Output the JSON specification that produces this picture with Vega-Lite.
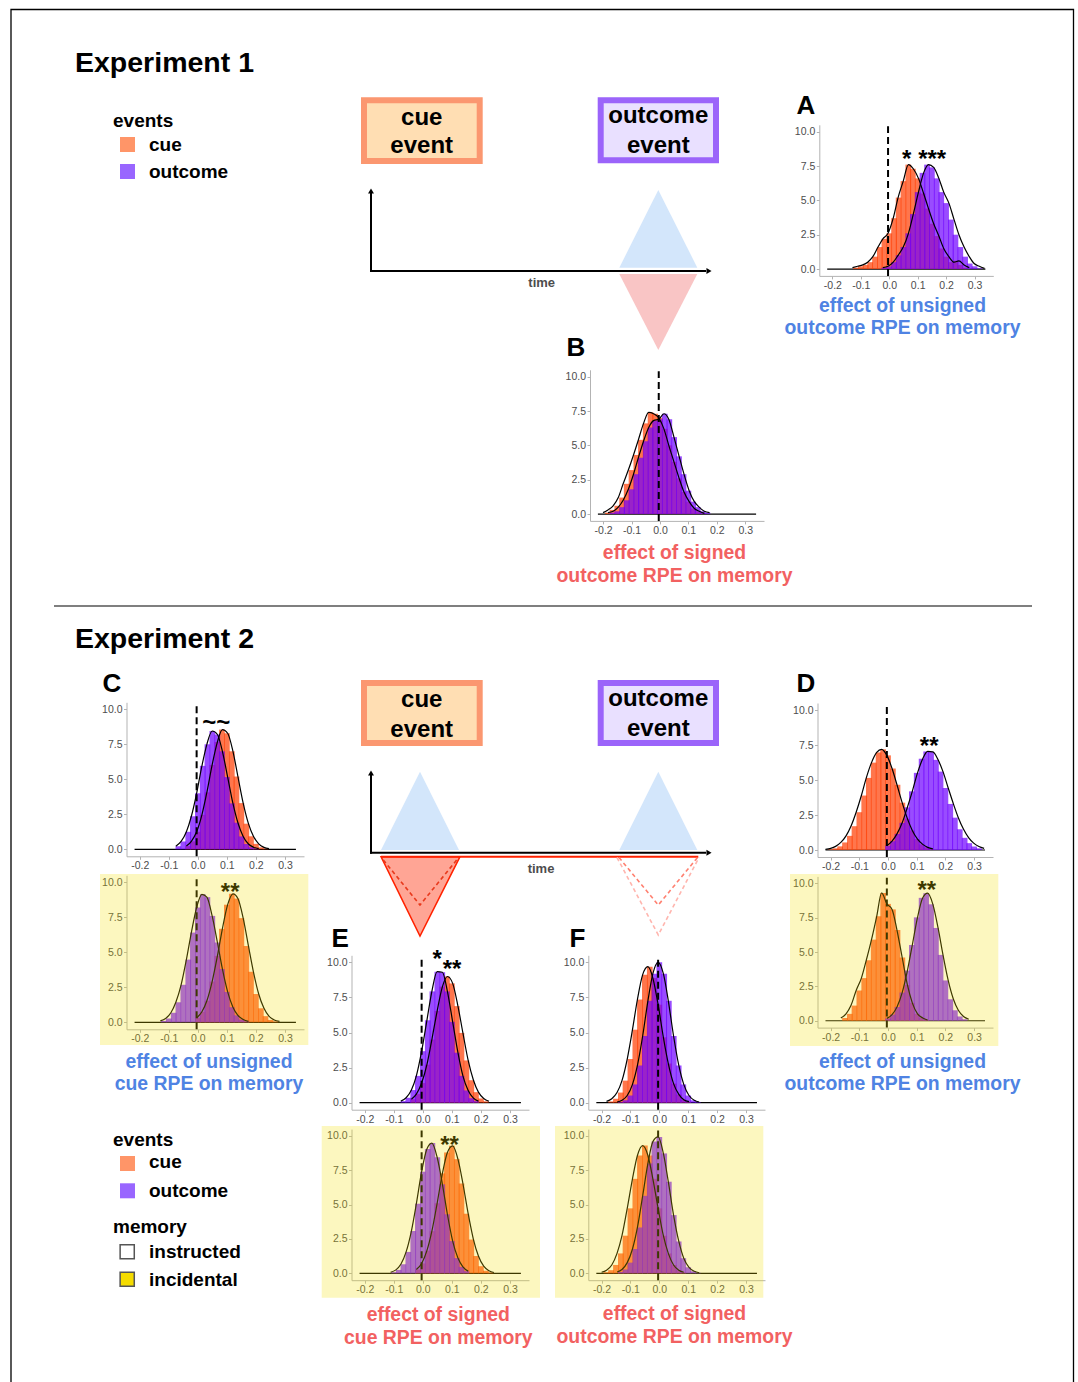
{
"$schema":"https://vega.github.io/schema/vega-lite/v6.json",
"width":1078,"height":1382,"autosize":"none","padding":0,"background":"white",
"config":{"view":{"stroke":null},"font":"Liberation Sans",
 "axis":{"grid":false,"domainColor":"#B3B3B3","domainWidth":1,"tickColor":"#B3B3B3","tickSize":3,"labelFontSize":10.5,"labelColor":"#4D4D4D","labelPadding":1.5,"labelFlush":false,"labelOverlap":false,"labelBound":false,"labelFont":"Liberation Sans"},
 "bar":{"continuousBandSize":5.7}},
"resolve":{"scale":{"x":"independent","y":"independent"},"axis":{"x":"independent","y":"independent"}},
"datasets":{
"cv":[
{"k":"border","x":11,"x2":1073.5,"y":9.5,"y2":1395},
{"k":"sep","x":54,"x2":1032,"y":606,"y2":606},
{"k":"cuebox","x":364,"x2":479.7,"y":100.3,"y2":161},
{"k":"outbox","x":600.7,"x2":716,"y":100.3,"y2":160.3},
{"k":"cuebox","x":364,"x2":479.7,"y":683,"y2":743},
{"k":"outbox","x":600.7,"x2":716,"y":683,"y2":743},
{"k":"tblue","id":"t1","x":619.3,"y":267.7,"yb":267.7},
{"k":"tblue","id":"t1","x":658.3,"y":190,"yb":267.7},
{"k":"tblue","id":"t1","x":697.3,"y":267.7,"yb":267.7},
{"k":"tpink","id":"t2","x":619.3,"y":274,"yb":274},
{"k":"tpink","id":"t2","x":658.3,"y":350,"yb":274},
{"k":"tpink","id":"t2","x":697.3,"y":274,"yb":274},
{"k":"tblue","id":"t3","x":381,"y":850,"yb":850},
{"k":"tblue","id":"t3","x":420,"y":771.7,"yb":850},
{"k":"tblue","id":"t3","x":459,"y":850,"yb":850},
{"k":"tblue","id":"t4","x":619.3,"y":850,"yb":850},
{"k":"tblue","id":"t4","x":658.3,"y":771.7,"yb":850},
{"k":"tblue","id":"t4","x":697.3,"y":850,"yb":850},
{"k":"tred","id":"t5","x":381,"y":856.7,"yb":856.7},
{"k":"tred","id":"t5","x":420,"y":936,"yb":856.7},
{"k":"tred","id":"t5","x":460,"y":856.7,"yb":856.7},
{"k":"ax","x":371,"x2":371,"y":272,"y2":193},
{"k":"ax","x":370,"x2":706,"y":271,"y2":271},
{"k":"ax","x":371,"x2":371,"y":853.7,"y2":775},
{"k":"ax","x":370,"x2":706,"y":852.7,"y2":852.7},
{"k":"red","x":381,"x2":698.3,"y":856.7,"y2":856.7},
{"k":"dred","id":"v1","x":383.3,"y":860},{"k":"dred","id":"v1","x":420,"y":905},{"k":"dred","id":"v1","x":456.7,"y":860},
{"k":"dsal","id":"v2","x":619,"y":857.5},{"k":"dsal","id":"v2","x":658.3,"y":905},{"k":"dsal","id":"v2","x":697.5,"y":857.5},
{"k":"dpink","id":"v3","x":617,"y":857.5},{"k":"dpink","id":"v3","x":658.3,"y":935},{"k":"dpink","id":"v3","x":699,"y":857.5},
{"k":"aup","x":371,"y":191},{"k":"aright","x":709,"y":271},{"k":"aup","x":371,"y":773},{"k":"aright","x":709,"y":852.7},
{"k":"sqcue","x":127.5,"y":144.5},{"k":"sqout","x":127.5,"y":171.5},{"k":"sqcue","x":127.5,"y":1163.5},{"k":"sqout","x":127.5,"y":1190.8},
{"k":"sqinst","x":127.2,"y":1251.7},{"k":"sqinc","x":127.2,"y":1279.2},
{"k":"title","t":"Experiment 1","x":75,"y":72},
{"k":"title","t":"Experiment 2","x":75,"y":648},
{"k":"leg","t":"events","x":113,"y":127},
{"k":"leg","t":"cue","x":149,"y":151},
{"k":"leg","t":"outcome","x":149,"y":178},
{"k":"leg","t":"events","x":113,"y":1146},
{"k":"leg","t":"cue","x":149,"y":1168},
{"k":"leg","t":"outcome","x":149,"y":1196.5},
{"k":"leg","t":"memory","x":113,"y":1233},
{"k":"leg","t":"instructed","x":149,"y":1257.5},
{"k":"leg","t":"incidental","x":149,"y":1285.5},
{"k":"box","t":"cue","x":421.7,"y":125},
{"k":"box","t":"event","x":421.7,"y":153.3},
{"k":"box","t":"outcome","x":658.3,"y":123.3},
{"k":"box","t":"event","x":658.3,"y":153.3},
{"k":"box","t":"cue","x":421.7,"y":707.3},
{"k":"box","t":"event","x":421.7,"y":736.7},
{"k":"box","t":"outcome","x":658.3,"y":705.7},
{"k":"box","t":"event","x":658.3,"y":736},
{"k":"letter","t":"A","x":796.5,"y":114},
{"k":"letter","t":"B","x":566.5,"y":356},
{"k":"letter","t":"C","x":102.5,"y":692},
{"k":"letter","t":"D","x":796.5,"y":692},
{"k":"letter","t":"E","x":331.5,"y":947},
{"k":"letter","t":"F","x":569.5,"y":947},
{"k":"time","t":"time","x":541.7,"y":286.7},
{"k":"time","t":"time","x":541,"y":873.3},
{"k":"capb","t":"effect of unsigned","x":902.5,"y":312},
{"k":"capb","t":"outcome RPE on memory","x":902.5,"y":334},
{"k":"capr","t":"effect of signed","x":674.5,"y":559},
{"k":"capr","t":"outcome RPE on memory","x":674.5,"y":582},
{"k":"capb","t":"effect of unsigned","x":209,"y":1068},
{"k":"capb","t":"cue RPE on memory","x":209,"y":1090},
{"k":"capb","t":"effect of unsigned","x":902.5,"y":1068},
{"k":"capb","t":"outcome RPE on memory","x":902.5,"y":1090},
{"k":"capr","t":"effect of signed","x":438.3,"y":1321},
{"k":"capr","t":"cue RPE on memory","x":438.3,"y":1344},
{"k":"capr","t":"effect of signed","x":674.5,"y":1320},
{"k":"capr","t":"outcome RPE on memory","x":674.5,"y":1343},
{"k":"yel","x":100,"x2":308.3,"y":874,"y2":1045},
{"k":"yel","x":790,"x2":998.3,"y":874,"y2":1046},
{"k":"yel","x":321.7,"x2":540,"y":1126,"y2":1297.7},
{"k":"yel","x":555,"x2":763.3,"y":1126,"y2":1297.7}
],
"ann":[
{"p":"A","x":0.061,"v":8.4,"t":"*"},{"p":"A","x":0.145,"v":8.4,"t":"***"},{"p":"C","x":0.063,"v":9.2,"t":"~~"},{"p":"Cy","x":0.108,"v":9.7,"t":"**"},{"p":"D","x":0.138,"v":7.8,"t":"**"},{"p":"Dy","x":0.13,"v":9.9,"t":"**"},{"p":"E","x":0.05,"v":10.6,"t":"*"},{"p":"E","x":0.098,"v":9.9,"t":"**"},{"p":"Ey","x":0.09,"v":9.7,"t":"**"}
],
"hist":[
{"p":"A","e":"cue","x":-0.117,"v":0.1},{"p":"A","e":"cue","x":-0.1,"v":0.2},{"p":"A","e":"cue","x":-0.083,"v":0.3},{"p":"A","e":"cue","x":-0.067,"v":0.5},{"p":"A","e":"cue","x":-0.05,"v":0.9},{"p":"A","e":"cue","x":-0.033,"v":1.6},{"p":"A","e":"cue","x":-0.017,"v":2.2},{"p":"A","e":"cue","x":0,"v":2.6},{"p":"A","e":"cue","x":0.017,"v":3.7},{"p":"A","e":"cue","x":0.033,"v":5.2},{"p":"A","e":"cue","x":0.05,"v":6.4},{"p":"A","e":"cue","x":0.067,"v":7.6},{"p":"A","e":"cue","x":0.083,"v":7.3},{"p":"A","e":"cue","x":0.1,"v":6.6},{"p":"A","e":"cue","x":0.117,"v":5.5},{"p":"A","e":"cue","x":0.133,"v":4.4},{"p":"A","e":"cue","x":0.15,"v":3.3},{"p":"A","e":"cue","x":0.167,"v":2.4},{"p":"A","e":"cue","x":0.183,"v":1.5},{"p":"A","e":"cue","x":0.2,"v":0.9},{"p":"A","e":"cue","x":0.217,"v":0.5},{"p":"A","e":"cue","x":0.233,"v":0.6},{"p":"A","e":"cue","x":0.25,"v":0.3},{"p":"A","e":"cue","x":0.267,"v":0.1},
{"p":"A","e":"outcome","x":-0.017,"v":0.1},{"p":"A","e":"outcome","x":0,"v":0.2},{"p":"A","e":"outcome","x":0.017,"v":0.5},{"p":"A","e":"outcome","x":0.033,"v":1.0},{"p":"A","e":"outcome","x":0.05,"v":1.6},{"p":"A","e":"outcome","x":0.067,"v":2.6},{"p":"A","e":"outcome","x":0.083,"v":4.0},{"p":"A","e":"outcome","x":0.1,"v":5.6},{"p":"A","e":"outcome","x":0.117,"v":7.0},{"p":"A","e":"outcome","x":0.133,"v":7.6},{"p":"A","e":"outcome","x":0.15,"v":7.4},{"p":"A","e":"outcome","x":0.167,"v":6.6},{"p":"A","e":"outcome","x":0.183,"v":5.6},{"p":"A","e":"outcome","x":0.2,"v":4.8},{"p":"A","e":"outcome","x":0.217,"v":3.6},{"p":"A","e":"outcome","x":0.233,"v":2.5},{"p":"A","e":"outcome","x":0.25,"v":1.6},{"p":"A","e":"outcome","x":0.267,"v":0.9},{"p":"A","e":"outcome","x":0.283,"v":0.4},{"p":"A","e":"outcome","x":0.3,"v":0.2},{"p":"A","e":"outcome","x":0.317,"v":0.05},
{"p":"B","e":"cue","x":-0.183,"v":0.1},{"p":"B","e":"cue","x":-0.167,"v":0.3},{"p":"B","e":"cue","x":-0.15,"v":0.6},{"p":"B","e":"cue","x":-0.133,"v":1.2},{"p":"B","e":"cue","x":-0.117,"v":2.2},{"p":"B","e":"cue","x":-0.1,"v":3.2},{"p":"B","e":"cue","x":-0.083,"v":4.3},{"p":"B","e":"cue","x":-0.067,"v":5.4},{"p":"B","e":"cue","x":-0.05,"v":6.6},{"p":"B","e":"cue","x":-0.033,"v":7.4},{"p":"B","e":"cue","x":-0.017,"v":7.3},{"p":"B","e":"cue","x":0,"v":7.0},{"p":"B","e":"cue","x":0.017,"v":6.2},{"p":"B","e":"cue","x":0.033,"v":5.0},{"p":"B","e":"cue","x":0.05,"v":3.8},{"p":"B","e":"cue","x":0.067,"v":2.6},{"p":"B","e":"cue","x":0.083,"v":1.6},{"p":"B","e":"cue","x":0.1,"v":0.9},{"p":"B","e":"cue","x":0.117,"v":0.4},{"p":"B","e":"cue","x":0.133,"v":0.2},{"p":"B","e":"cue","x":0.15,"v":0.05},
{"p":"B","e":"outcome","x":-0.167,"v":0.1},{"p":"B","e":"outcome","x":-0.15,"v":0.2},{"p":"B","e":"outcome","x":-0.133,"v":0.5},{"p":"B","e":"outcome","x":-0.117,"v":1.0},{"p":"B","e":"outcome","x":-0.1,"v":1.8},{"p":"B","e":"outcome","x":-0.083,"v":2.9},{"p":"B","e":"outcome","x":-0.067,"v":4.1},{"p":"B","e":"outcome","x":-0.05,"v":5.3},{"p":"B","e":"outcome","x":-0.033,"v":6.3},{"p":"B","e":"outcome","x":-0.017,"v":6.8},{"p":"B","e":"outcome","x":0,"v":6.9},{"p":"B","e":"outcome","x":0.017,"v":7.3},{"p":"B","e":"outcome","x":0.033,"v":6.9},{"p":"B","e":"outcome","x":0.05,"v":5.6},{"p":"B","e":"outcome","x":0.067,"v":4.2},{"p":"B","e":"outcome","x":0.083,"v":2.9},{"p":"B","e":"outcome","x":0.1,"v":1.7},{"p":"B","e":"outcome","x":0.117,"v":0.9},{"p":"B","e":"outcome","x":0.133,"v":0.5},{"p":"B","e":"outcome","x":0.15,"v":0.2},{"p":"B","e":"outcome","x":0.167,"v":0.1},
{"p":"C","e":"cue","x":-0.033,"v":0.23},{"p":"C","e":"cue","x":-0.017,"v":0.57},{"p":"C","e":"cue","x":0,"v":1.25},{"p":"C","e":"cue","x":0.017,"v":2.46},{"p":"C","e":"cue","x":0.033,"v":4.07},{"p":"C","e":"cue","x":0.05,"v":6.03},{"p":"C","e":"cue","x":0.067,"v":7.67},{"p":"C","e":"cue","x":0.083,"v":8.55},{"p":"C","e":"cue","x":0.1,"v":8.29},{"p":"C","e":"cue","x":0.117,"v":7.0},{"p":"C","e":"cue","x":0.133,"v":5.2},{"p":"C","e":"cue","x":0.15,"v":3.3},{"p":"C","e":"cue","x":0.167,"v":1.83},{"p":"C","e":"cue","x":0.183,"v":0.93},{"p":"C","e":"cue","x":0.2,"v":0.39},{"p":"C","e":"cue","x":0.217,"v":0.14},{"p":"C","e":"cue","x":0.233,"v":0.05},
{"p":"C","e":"outcome","x":-0.067,"v":0.22},{"p":"C","e":"outcome","x":-0.05,"v":0.56},{"p":"C","e":"outcome","x":-0.033,"v":1.25},{"p":"C","e":"outcome","x":-0.017,"v":2.36},{"p":"C","e":"outcome","x":0,"v":4.0},{"p":"C","e":"outcome","x":0.017,"v":5.96},{"p":"C","e":"outcome","x":0.033,"v":7.5},{"p":"C","e":"outcome","x":0.05,"v":8.45},{"p":"C","e":"outcome","x":0.067,"v":8.2},{"p":"C","e":"outcome","x":0.083,"v":7.0},{"p":"C","e":"outcome","x":0.1,"v":5.16},{"p":"C","e":"outcome","x":0.117,"v":3.28},{"p":"C","e":"outcome","x":0.133,"v":1.9},{"p":"C","e":"outcome","x":0.15,"v":0.92},{"p":"C","e":"outcome","x":0.167,"v":0.38},{"p":"C","e":"outcome","x":0.183,"v":0.15},{"p":"C","e":"outcome","x":0.2,"v":0.05},
{"p":"Cy","e":"cue","x":0,"v":0.31},{"p":"Cy","e":"cue","x":0.017,"v":0.75},{"p":"Cy","e":"cue","x":0.033,"v":1.54},{"p":"Cy","e":"cue","x":0.05,"v":2.91},{"p":"Cy","e":"cue","x":0.067,"v":4.74},{"p":"Cy","e":"cue","x":0.083,"v":6.68},{"p":"Cy","e":"cue","x":0.1,"v":8.4},{"p":"Cy","e":"cue","x":0.117,"v":9.18},{"p":"Cy","e":"cue","x":0.133,"v":8.84},{"p":"Cy","e":"cue","x":0.15,"v":7.44},{"p":"Cy","e":"cue","x":0.167,"v":5.45},{"p":"Cy","e":"cue","x":0.183,"v":3.61},{"p":"Cy","e":"cue","x":0.2,"v":2.02},{"p":"Cy","e":"cue","x":0.217,"v":1.0},{"p":"Cy","e":"cue","x":0.233,"v":0.44},{"p":"Cy","e":"cue","x":0.25,"v":0.17},{"p":"Cy","e":"cue","x":0.267,"v":0.06},
{"p":"Cy","e":"outcome","x":-0.117,"v":0.1},{"p":"Cy","e":"outcome","x":-0.1,"v":0.27},{"p":"Cy","e":"outcome","x":-0.083,"v":0.68},{"p":"Cy","e":"outcome","x":-0.067,"v":1.43},{"p":"Cy","e":"outcome","x":-0.05,"v":2.68},{"p":"Cy","e":"outcome","x":-0.033,"v":4.48},{"p":"Cy","e":"outcome","x":-0.017,"v":6.41},{"p":"Cy","e":"outcome","x":0,"v":8.2},{"p":"Cy","e":"outcome","x":0.017,"v":9.14},{"p":"Cy","e":"outcome","x":0.033,"v":8.94},{"p":"Cy","e":"outcome","x":0.05,"v":7.6},{"p":"Cy","e":"outcome","x":0.067,"v":5.7},{"p":"Cy","e":"outcome","x":0.083,"v":3.81},{"p":"Cy","e":"outcome","x":0.1,"v":2.17},{"p":"Cy","e":"outcome","x":0.117,"v":1.08},{"p":"Cy","e":"outcome","x":0.133,"v":0.5},{"p":"Cy","e":"outcome","x":0.15,"v":0.2},{"p":"Cy","e":"outcome","x":0.167,"v":0.07},
{"p":"D","e":"cue","x":-0.2,"v":0.05},{"p":"D","e":"cue","x":-0.183,"v":0.12},{"p":"D","e":"cue","x":-0.167,"v":0.26},{"p":"D","e":"cue","x":-0.15,"v":0.54},{"p":"D","e":"cue","x":-0.133,"v":1.01},{"p":"D","e":"cue","x":-0.117,"v":1.7},{"p":"D","e":"cue","x":-0.1,"v":2.7},{"p":"D","e":"cue","x":-0.083,"v":3.89},{"p":"D","e":"cue","x":-0.067,"v":5.15},{"p":"D","e":"cue","x":-0.05,"v":6.24},{"p":"D","e":"cue","x":-0.033,"v":6.97},{"p":"D","e":"cue","x":-0.017,"v":7.19},{"p":"D","e":"cue","x":0,"v":6.76},{"p":"D","e":"cue","x":0.017,"v":5.82},{"p":"D","e":"cue","x":0.033,"v":4.66},{"p":"D","e":"cue","x":0.05,"v":3.38},{"p":"D","e":"cue","x":0.067,"v":2.24},{"p":"D","e":"cue","x":0.083,"v":1.4},{"p":"D","e":"cue","x":0.1,"v":0.78},{"p":"D","e":"cue","x":0.117,"v":0.4},{"p":"D","e":"cue","x":0.133,"v":0.19},{"p":"D","e":"cue","x":0.15,"v":0.08},
{"p":"D","e":"outcome","x":0,"v":0.31},{"p":"D","e":"outcome","x":0.017,"v":0.63},{"p":"D","e":"outcome","x":0.033,"v":1.15},{"p":"D","e":"outcome","x":0.05,"v":1.94},{"p":"D","e":"outcome","x":0.067,"v":3.05},{"p":"D","e":"outcome","x":0.083,"v":4.19},{"p":"D","e":"outcome","x":0.1,"v":5.51},{"p":"D","e":"outcome","x":0.117,"v":6.52},{"p":"D","e":"outcome","x":0.133,"v":7.04},{"p":"D","e":"outcome","x":0.15,"v":7.01},{"p":"D","e":"outcome","x":0.167,"v":6.44},{"p":"D","e":"outcome","x":0.183,"v":5.6},{"p":"D","e":"outcome","x":0.2,"v":4.43},{"p":"D","e":"outcome","x":0.217,"v":3.29},{"p":"D","e":"outcome","x":0.233,"v":2.31},{"p":"D","e":"outcome","x":0.25,"v":1.48},{"p":"D","e":"outcome","x":0.267,"v":0.87},{"p":"D","e":"outcome","x":0.283,"v":0.49},{"p":"D","e":"outcome","x":0.3,"v":0.25},{"p":"D","e":"outcome","x":0.317,"v":0.12},
{"p":"Dy","e":"cue","x":-0.15,"v":0.2},{"p":"Dy","e":"cue","x":-0.133,"v":0.5},{"p":"Dy","e":"cue","x":-0.117,"v":1.1},{"p":"Dy","e":"cue","x":-0.1,"v":2.2},{"p":"Dy","e":"cue","x":-0.083,"v":3.1},{"p":"Dy","e":"cue","x":-0.067,"v":4.4},{"p":"Dy","e":"cue","x":-0.05,"v":5.9},{"p":"Dy","e":"cue","x":-0.033,"v":7.6},{"p":"Dy","e":"cue","x":-0.017,"v":9.3},{"p":"Dy","e":"cue","x":0,"v":8.5},{"p":"Dy","e":"cue","x":0.017,"v":8.1},{"p":"Dy","e":"cue","x":0.033,"v":6.6},{"p":"Dy","e":"cue","x":0.05,"v":4.6},{"p":"Dy","e":"cue","x":0.067,"v":2.6},{"p":"Dy","e":"cue","x":0.083,"v":1.3},{"p":"Dy","e":"cue","x":0.1,"v":0.5},{"p":"Dy","e":"cue","x":0.117,"v":0.2},{"p":"Dy","e":"cue","x":0.133,"v":0.05},
{"p":"Dy","e":"outcome","x":0,"v":0.17},{"p":"Dy","e":"outcome","x":0.017,"v":0.45},{"p":"Dy","e":"outcome","x":0.033,"v":1.0},{"p":"Dy","e":"outcome","x":0.05,"v":2.05},{"p":"Dy","e":"outcome","x":0.067,"v":3.65},{"p":"Dy","e":"outcome","x":0.083,"v":5.51},{"p":"Dy","e":"outcome","x":0.1,"v":7.52},{"p":"Dy","e":"outcome","x":0.117,"v":8.94},{"p":"Dy","e":"outcome","x":0.133,"v":9.28},{"p":"Dy","e":"outcome","x":0.15,"v":8.47},{"p":"Dy","e":"outcome","x":0.167,"v":6.75},{"p":"Dy","e":"outcome","x":0.183,"v":4.79},{"p":"Dy","e":"outcome","x":0.2,"v":2.93},{"p":"Dy","e":"outcome","x":0.217,"v":1.56},{"p":"Dy","e":"outcome","x":0.233,"v":0.76},{"p":"Dy","e":"outcome","x":0.25,"v":0.31},{"p":"Dy","e":"outcome","x":0.267,"v":0.11},
{"p":"E","e":"cue","x":-0.033,"v":0.25},{"p":"E","e":"cue","x":-0.017,"v":0.61},{"p":"E","e":"cue","x":0,"v":1.4},{"p":"E","e":"cue","x":0.017,"v":2.71},{"p":"E","e":"cue","x":0.033,"v":4.5},{"p":"E","e":"cue","x":0.05,"v":6.53},{"p":"E","e":"cue","x":0.067,"v":8.27},{"p":"E","e":"cue","x":0.083,"v":8.99},{"p":"E","e":"cue","x":0.1,"v":8.5},{"p":"E","e":"cue","x":0.117,"v":6.88},{"p":"E","e":"cue","x":0.133,"v":4.97},{"p":"E","e":"cue","x":0.15,"v":3.01},{"p":"E","e":"cue","x":0.167,"v":1.6},{"p":"E","e":"cue","x":0.183,"v":0.75},{"p":"E","e":"cue","x":0.2,"v":0.3},{"p":"E","e":"cue","x":0.217,"v":0.1},
{"p":"E","e":"outcome","x":-0.067,"v":0.11},{"p":"E","e":"outcome","x":-0.05,"v":0.35},{"p":"E","e":"outcome","x":-0.033,"v":0.9},{"p":"E","e":"outcome","x":-0.017,"v":1.91},{"p":"E","e":"outcome","x":0,"v":3.67},{"p":"E","e":"outcome","x":0.017,"v":5.87},{"p":"E","e":"outcome","x":0.033,"v":7.93},{"p":"E","e":"outcome","x":0.05,"v":9.33},{"p":"E","e":"outcome","x":0.067,"v":9.29},{"p":"E","e":"outcome","x":0.083,"v":7.93},{"p":"E","e":"outcome","x":0.1,"v":5.76},{"p":"E","e":"outcome","x":0.117,"v":3.56},{"p":"E","e":"outcome","x":0.133,"v":1.91},{"p":"E","e":"outcome","x":0.15,"v":0.87},{"p":"E","e":"outcome","x":0.167,"v":0.32},{"p":"E","e":"outcome","x":0.183,"v":0.11},
{"p":"Ey","e":"cue","x":-0.017,"v":0.28},{"p":"Ey","e":"cue","x":0,"v":0.72},{"p":"Ey","e":"cue","x":0.017,"v":1.65},{"p":"Ey","e":"cue","x":0.033,"v":3.07},{"p":"Ey","e":"cue","x":0.05,"v":5.1},{"p":"Ey","e":"cue","x":0.067,"v":7.28},{"p":"Ey","e":"cue","x":0.083,"v":8.8},{"p":"Ey","e":"cue","x":0.1,"v":9.28},{"p":"Ey","e":"cue","x":0.117,"v":8.31},{"p":"Ey","e":"cue","x":0.133,"v":6.54},{"p":"Ey","e":"cue","x":0.15,"v":4.34},{"p":"Ey","e":"cue","x":0.167,"v":2.46},{"p":"Ey","e":"cue","x":0.183,"v":1.26},{"p":"Ey","e":"cue","x":0.2,"v":0.52},{"p":"Ey","e":"cue","x":0.217,"v":0.19},{"p":"Ey","e":"cue","x":0.233,"v":0.06},
{"p":"Ey","e":"outcome","x":-0.1,"v":0.08},{"p":"Ey","e":"outcome","x":-0.083,"v":0.25},{"p":"Ey","e":"outcome","x":-0.067,"v":0.66},{"p":"Ey","e":"outcome","x":-0.05,"v":1.56},{"p":"Ey","e":"outcome","x":-0.033,"v":3.08},{"p":"Ey","e":"outcome","x":-0.017,"v":5.07},{"p":"Ey","e":"outcome","x":0,"v":7.4},{"p":"Ey","e":"outcome","x":0.017,"v":9.05},{"p":"Ey","e":"outcome","x":0.033,"v":9.48},{"p":"Ey","e":"outcome","x":0.05,"v":8.45},{"p":"Ey","e":"outcome","x":0.067,"v":6.48},{"p":"Ey","e":"outcome","x":0.083,"v":4.3},{"p":"Ey","e":"outcome","x":0.1,"v":2.35},{"p":"Ey","e":"outcome","x":0.117,"v":1.11},{"p":"Ey","e":"outcome","x":0.133,"v":0.47},{"p":"Ey","e":"outcome","x":0.15,"v":0.16},
{"p":"F","e":"cue","x":-0.167,"v":0.09},{"p":"F","e":"cue","x":-0.15,"v":0.28},{"p":"F","e":"cue","x":-0.133,"v":0.72},{"p":"F","e":"cue","x":-0.117,"v":1.57},{"p":"F","e":"cue","x":-0.1,"v":3.11},{"p":"F","e":"cue","x":-0.083,"v":5.2},{"p":"F","e":"cue","x":-0.067,"v":7.35},{"p":"F","e":"cue","x":-0.05,"v":9.12},{"p":"F","e":"cue","x":-0.033,"v":9.69},{"p":"F","e":"cue","x":-0.017,"v":8.88},{"p":"F","e":"cue","x":0,"v":6.98},{"p":"F","e":"cue","x":0.017,"v":4.66},{"p":"F","e":"cue","x":0.033,"v":2.79},{"p":"F","e":"cue","x":0.05,"v":1.36},{"p":"F","e":"cue","x":0.067,"v":0.59},{"p":"F","e":"cue","x":0.083,"v":0.21},{"p":"F","e":"cue","x":0.1,"v":0.07},
{"p":"F","e":"outcome","x":-0.133,"v":0.05},{"p":"F","e":"outcome","x":-0.117,"v":0.17},{"p":"F","e":"outcome","x":-0.1,"v":0.51},{"p":"F","e":"outcome","x":-0.083,"v":1.3},{"p":"F","e":"outcome","x":-0.067,"v":2.65},{"p":"F","e":"outcome","x":-0.05,"v":4.75},{"p":"F","e":"outcome","x":-0.033,"v":7.26},{"p":"F","e":"outcome","x":-0.017,"v":9.19},{"p":"F","e":"outcome","x":0,"v":10.0},{"p":"F","e":"outcome","x":0.017,"v":9.19},{"p":"F","e":"outcome","x":0.033,"v":7.26},{"p":"F","e":"outcome","x":0.05,"v":4.75},{"p":"F","e":"outcome","x":0.067,"v":2.65},{"p":"F","e":"outcome","x":0.083,"v":1.3},{"p":"F","e":"outcome","x":0.1,"v":0.51},{"p":"F","e":"outcome","x":0.117,"v":0.17},{"p":"F","e":"outcome","x":0.133,"v":0.05},
{"p":"Fy","e":"cue","x":-0.183,"v":0.08},{"p":"Fy","e":"cue","x":-0.167,"v":0.23},{"p":"Fy","e":"cue","x":-0.15,"v":0.61},{"p":"Fy","e":"cue","x":-0.133,"v":1.45},{"p":"Fy","e":"cue","x":-0.117,"v":2.74},{"p":"Fy","e":"cue","x":-0.1,"v":4.73},{"p":"Fy","e":"cue","x":-0.083,"v":6.88},{"p":"Fy","e":"cue","x":-0.067,"v":8.58},{"p":"Fy","e":"cue","x":-0.05,"v":9.3},{"p":"Fy","e":"cue","x":-0.033,"v":8.58},{"p":"Fy","e":"cue","x":-0.017,"v":6.88},{"p":"Fy","e":"cue","x":0,"v":4.73},{"p":"Fy","e":"cue","x":0.017,"v":2.74},{"p":"Fy","e":"cue","x":0.033,"v":1.45},{"p":"Fy","e":"cue","x":0.05,"v":0.61},{"p":"Fy","e":"cue","x":0.067,"v":0.23},{"p":"Fy","e":"cue","x":0.083,"v":0.08},
{"p":"Fy","e":"outcome","x":-0.133,"v":0.1},{"p":"Fy","e":"outcome","x":-0.117,"v":0.28},{"p":"Fy","e":"outcome","x":-0.1,"v":0.78},{"p":"Fy","e":"outcome","x":-0.083,"v":1.77},{"p":"Fy","e":"outcome","x":-0.067,"v":3.34},{"p":"Fy","e":"outcome","x":-0.05,"v":5.64},{"p":"Fy","e":"outcome","x":-0.033,"v":8.0},{"p":"Fy","e":"outcome","x":-0.017,"v":9.59},{"p":"Fy","e":"outcome","x":0,"v":9.93},{"p":"Fy","e":"outcome","x":0.017,"v":8.73},{"p":"Fy","e":"outcome","x":0.033,"v":6.67},{"p":"Fy","e":"outcome","x":0.05,"v":4.24},{"p":"Fy","e":"outcome","x":0.067,"v":2.32},{"p":"Fy","e":"outcome","x":0.083,"v":1.1},{"p":"Fy","e":"outcome","x":0.1,"v":0.44},{"p":"Fy","e":"outcome","x":0.117,"v":0.15},{"p":"Fy","e":"outcome","x":0.133,"v":0.04}
]},
"layer":[
{"data":{"name":"cv"},
 "encoding":{"x":{"field":"x","type":"quantitative","scale":{"domain":[0,1078],"range":[0,1078],"nice":false,"zero":false},"axis":null},
  "y":{"field":"y","type":"quantitative","scale":{"domain":[0,1382],"range":[0,1382],"nice":false,"zero":false},"axis":null}},
 "layer":[
  {"transform":[{"filter":"datum.k=='border'"}],"mark":{"type":"rect","filled":false,"stroke":"black","strokeWidth":1.3},"encoding":{"x2":{"field":"x2"},"y2":{"field":"y2"}}},
  {"transform":[{"filter":"datum.k=='sep'"}],"mark":{"type":"rule","color":"#555555","strokeWidth":1.5},"encoding":{"x2":{"field":"x2"},"y2":{"field":"y2"}}},
  {"transform":[{"filter":"datum.k=='cuebox'"}],"mark":{"type":"rect","fill":"#FFDEB3","stroke":"#FB9770","strokeWidth":6},"encoding":{"x2":{"field":"x2"},"y2":{"field":"y2"}}},
  {"transform":[{"filter":"datum.k=='outbox'"}],"mark":{"type":"rect","fill":"#E9E0FF","stroke":"#9B64FA","strokeWidth":6},"encoding":{"x2":{"field":"x2"},"y2":{"field":"y2"}}},
  {"transform":[{"filter":"datum.k=='tblue'"}],"mark":{"type":"area","color":"#D3E6FB","orient":"vertical"},"encoding":{"y2":{"field":"yb"},"detail":{"field":"id"}}},
  {"transform":[{"filter":"datum.k=='tpink'"}],"mark":{"type":"area","color":"#F9C5C5","orient":"vertical"},"encoding":{"y2":{"field":"yb"},"detail":{"field":"id"}}},
  {"transform":[{"filter":"datum.k=='tred'"}],"mark":{"type":"area","fill":"#FFA595","stroke":"#FF2200","strokeWidth":1.5,"orient":"vertical"},"encoding":{"y2":{"field":"yb"},"detail":{"field":"id"}}},
  {"transform":[{"filter":"datum.k=='red'"}],"mark":{"type":"rule","color":"#FF2200","strokeWidth":2},"encoding":{"x2":{"field":"x2"},"y2":{"field":"y2"}}},
  {"transform":[{"filter":"datum.k=='ax'"}],"mark":{"type":"rule","color":"black","strokeWidth":2},"encoding":{"x2":{"field":"x2"},"y2":{"field":"y2"}}},
  {"transform":[{"filter":"datum.k=='dred'"}],"mark":{"type":"line","color":"#E8391C","strokeWidth":1.6,"strokeDash":[4,3]},"encoding":{"detail":{"field":"id"}}},
  {"transform":[{"filter":"datum.k=='dsal'"}],"mark":{"type":"line","color":"#FF8070","strokeWidth":1.6,"strokeDash":[4,3]},"encoding":{"detail":{"field":"id"}}},
  {"transform":[{"filter":"datum.k=='dpink'"}],"mark":{"type":"line","color":"#FFB5AE","strokeWidth":1.6,"strokeDash":[4,3]},"encoding":{"detail":{"field":"id"}}},
  {"transform":[{"filter":"datum.k=='aup'"}],"mark":{"type":"point","filled":true,"shape":"triangle-up","size":35,"color":"black","opacity":1}},
  {"transform":[{"filter":"datum.k=='aright'"}],"mark":{"type":"point","filled":true,"shape":"triangle-right","size":35,"color":"black","opacity":1}},
  {"transform":[{"filter":"datum.k=='sqcue'"}],"mark":{"type":"point","filled":true,"shape":"square","size":225,"color":"#FF9568","opacity":1}},
  {"transform":[{"filter":"datum.k=='sqout'"}],"mark":{"type":"point","filled":true,"shape":"square","size":225,"color":"#9966FF","opacity":1}},
  {"transform":[{"filter":"datum.k=='sqinst'"}],"mark":{"type":"point","filled":true,"shape":"square","size":200,"fill":"white","stroke":"#555555","strokeWidth":1.5,"opacity":1}},
  {"transform":[{"filter":"datum.k=='sqinc'"}],"mark":{"type":"point","filled":true,"shape":"square","size":200,"fill":"#F5DC00","stroke":"#555555","strokeWidth":1.5,"opacity":1}},
  {"transform":[{"filter":"datum.k=='title'"}],"mark":{"type":"text","fontWeight":"bold","fontSize":28.5,"align":"left","baseline":"alphabetic","color":"black"},"encoding":{"text":{"field":"t"}}},
  {"transform":[{"filter":"datum.k=='leg'"}],"mark":{"type":"text","fontWeight":"bold","fontSize":19,"align":"left","baseline":"alphabetic","color":"black"},"encoding":{"text":{"field":"t"}}},
  {"transform":[{"filter":"datum.k=='box'"}],"mark":{"type":"text","fontWeight":"bold","fontSize":24,"align":"center","baseline":"alphabetic","color":"black"},"encoding":{"text":{"field":"t"}}},
  {"transform":[{"filter":"datum.k=='letter'"}],"mark":{"type":"text","fontWeight":"bold","fontSize":26,"align":"left","baseline":"alphabetic","color":"black"},"encoding":{"text":{"field":"t"}}},
  {"transform":[{"filter":"datum.k=='time'"}],"mark":{"type":"text","fontWeight":"bold","fontSize":13,"align":"center","baseline":"alphabetic","color":"#4D4D4D"},"encoding":{"text":{"field":"t"}}},
  {"transform":[{"filter":"datum.k=='capb'"}],"mark":{"type":"text","fontWeight":"bold","fontSize":19.4,"align":"center","baseline":"alphabetic","color":"#4F83E3"},"encoding":{"text":{"field":"t"}}},
  {"transform":[{"filter":"datum.k=='capr'"}],"mark":{"type":"text","fontWeight":"bold","fontSize":19.4,"align":"center","baseline":"alphabetic","color":"#F26161"},"encoding":{"text":{"field":"t"}}}
 ]},

{"data":{"values":[{}]},"mark":{"type":"rule","color":"black","strokeWidth":1.2},"encoding":{"x":{"datum":-0.2,"type":"quantitative","scale":{"domain":[-0.226,0.346],"range":[819.3,993.3],"nice":false,"zero":false},"axis":null},"x2":{"datum":0.32},"y":{"datum":0,"type":"quantitative","scale":{"domain":[-0.5,10.5],"range":[275.9,124.8],"nice":false,"zero":false},"axis":null}}},
{"data":{"name":"hist"},"transform":[{"filter":"datum.p=='A' && datum.e=='cue'"}],"mark":{"type":"bar","orient":"vertical","fill":"#FF3C00","fillOpacity":0.7},"encoding":{"x":{"field":"x","type":"quantitative","scale":{"domain":[-0.226,0.346],"range":[819.3,993.3],"nice":false,"zero":false},"axis":{"orient":"bottom","offset":-1106.1,"title":null,"values":[-0.2,-0.1,0,0.1,0.2,0.3],"format":".1f","labelExpr":"replace(datum.label,'\u2212','-')"}},"y":{"field":"v","type":"quantitative","scale":{"domain":[-0.5,10.5],"range":[275.9,124.8],"nice":false,"zero":false},"axis":{"orient":"left","offset":-819.3,"title":null,"values":[0,2.5,5,7.5,10],"format":".1f"}},"y2":{"datum":0}}},
{"data":{"name":"hist"},"transform":[{"filter":"datum.p=='A' && datum.e=='outcome'"}],"mark":{"type":"bar","orient":"vertical","fill":"#6E00FF","fillOpacity":0.7},"encoding":{"x":{"field":"x","type":"quantitative","scale":{"domain":[-0.226,0.346],"range":[819.3,993.3],"nice":false,"zero":false},"axis":null},"y":{"field":"v","type":"quantitative","scale":{"domain":[-0.5,10.5],"range":[275.9,124.8],"nice":false,"zero":false},"axis":null},"y2":{"datum":0}}},
{"data":{"name":"hist"},"transform":[{"filter":"datum.p=='A' && datum.e=='cue'"}],"mark":{"type":"line","color":"black","strokeWidth":1.2,"interpolate":"monotone"},"encoding":{"x":{"field":"x","type":"quantitative","scale":{"domain":[-0.226,0.346],"range":[819.3,993.3],"nice":false,"zero":false},"axis":null},"y":{"field":"v","type":"quantitative","scale":{"domain":[-0.5,10.5],"range":[275.9,124.8],"nice":false,"zero":false},"axis":null}}},
{"data":{"name":"hist"},"transform":[{"filter":"datum.p=='A' && datum.e=='outcome'"}],"mark":{"type":"line","color":"black","strokeWidth":1.2,"interpolate":"monotone"},"encoding":{"x":{"field":"x","type":"quantitative","scale":{"domain":[-0.226,0.346],"range":[819.3,993.3],"nice":false,"zero":false},"axis":null},"y":{"field":"v","type":"quantitative","scale":{"domain":[-0.5,10.5],"range":[275.9,124.8],"nice":false,"zero":false},"axis":null}}},
{"data":{"values":[{}]},"mark":{"type":"rule","color":"black","strokeWidth":2,"strokeDash":[7,4]},"encoding":{"x":{"datum":0,"type":"quantitative","scale":{"domain":[-0.226,0.346],"range":[819.3,993.3],"nice":false,"zero":false},"axis":null},"y":{"datum":-0.5,"type":"quantitative","scale":{"domain":[-0.5,10.5],"range":[275.9,124.8],"nice":false,"zero":false},"axis":null},"y2":{"datum":10.4}}},
{"data":{"name":"ann"},"transform":[{"filter":"datum.p=='A'"}],"mark":{"type":"text","fontWeight":"bold","fontSize":24,"baseline":"middle","dy":6,"color":"black"},"encoding":{"x":{"field":"x","type":"quantitative","scale":{"domain":[-0.226,0.346],"range":[819.3,993.3],"nice":false,"zero":false},"axis":null},"y":{"field":"v","type":"quantitative","scale":{"domain":[-0.5,10.5],"range":[275.9,124.8],"nice":false,"zero":false},"axis":null},"text":{"field":"t"}}},

{"data":{"values":[{}]},"mark":{"type":"rule","color":"black","strokeWidth":1.2},"encoding":{"x":{"datum":-0.2,"type":"quantitative","scale":{"domain":[-0.226,0.346],"range":[590,764],"nice":false,"zero":false},"axis":null},"x2":{"datum":0.32},"y":{"datum":0,"type":"quantitative","scale":{"domain":[-0.5,10.5],"range":[520.9,369.8],"nice":false,"zero":false},"axis":null}}},
{"data":{"name":"hist"},"transform":[{"filter":"datum.p=='B' && datum.e=='cue'"}],"mark":{"type":"bar","orient":"vertical","fill":"#FF3C00","fillOpacity":0.7},"encoding":{"x":{"field":"x","type":"quantitative","scale":{"domain":[-0.226,0.346],"range":[590,764],"nice":false,"zero":false},"axis":{"orient":"bottom","offset":-861.1,"title":null,"values":[-0.2,-0.1,0,0.1,0.2,0.3],"format":".1f","labelExpr":"replace(datum.label,'\u2212','-')"}},"y":{"field":"v","type":"quantitative","scale":{"domain":[-0.5,10.5],"range":[520.9,369.8],"nice":false,"zero":false},"axis":{"orient":"left","offset":-590,"title":null,"values":[0,2.5,5,7.5,10],"format":".1f"}},"y2":{"datum":0}}},
{"data":{"name":"hist"},"transform":[{"filter":"datum.p=='B' && datum.e=='outcome'"}],"mark":{"type":"bar","orient":"vertical","fill":"#6E00FF","fillOpacity":0.7},"encoding":{"x":{"field":"x","type":"quantitative","scale":{"domain":[-0.226,0.346],"range":[590,764],"nice":false,"zero":false},"axis":null},"y":{"field":"v","type":"quantitative","scale":{"domain":[-0.5,10.5],"range":[520.9,369.8],"nice":false,"zero":false},"axis":null},"y2":{"datum":0}}},
{"data":{"name":"hist"},"transform":[{"filter":"datum.p=='B' && datum.e=='cue'"}],"mark":{"type":"line","color":"black","strokeWidth":1.2,"interpolate":"monotone"},"encoding":{"x":{"field":"x","type":"quantitative","scale":{"domain":[-0.226,0.346],"range":[590,764],"nice":false,"zero":false},"axis":null},"y":{"field":"v","type":"quantitative","scale":{"domain":[-0.5,10.5],"range":[520.9,369.8],"nice":false,"zero":false},"axis":null}}},
{"data":{"name":"hist"},"transform":[{"filter":"datum.p=='B' && datum.e=='outcome'"}],"mark":{"type":"line","color":"black","strokeWidth":1.2,"interpolate":"monotone"},"encoding":{"x":{"field":"x","type":"quantitative","scale":{"domain":[-0.226,0.346],"range":[590,764],"nice":false,"zero":false},"axis":null},"y":{"field":"v","type":"quantitative","scale":{"domain":[-0.5,10.5],"range":[520.9,369.8],"nice":false,"zero":false},"axis":null}}},
{"data":{"values":[{}]},"mark":{"type":"rule","color":"black","strokeWidth":2,"strokeDash":[7,4]},"encoding":{"x":{"datum":0,"type":"quantitative","scale":{"domain":[-0.226,0.346],"range":[590,764],"nice":false,"zero":false},"axis":null},"y":{"datum":-0.5,"type":"quantitative","scale":{"domain":[-0.5,10.5],"range":[520.9,369.8],"nice":false,"zero":false},"axis":null},"y2":{"datum":10.4}}},

{"data":{"values":[{}]},"mark":{"type":"rule","color":"black","strokeWidth":1.2},"encoding":{"x":{"datum":-0.2,"type":"quantitative","scale":{"domain":[-0.226,0.346],"range":[126.5,304],"nice":false,"zero":false},"axis":null},"x2":{"datum":0.32},"y":{"datum":0,"type":"quantitative","scale":{"domain":[-0.5,10.5],"range":[856.3,702.3],"nice":false,"zero":false},"axis":null}}},
{"data":{"name":"hist"},"transform":[{"filter":"datum.p=='C' && datum.e=='cue'"}],"mark":{"type":"bar","orient":"vertical","fill":"#FF3C00","fillOpacity":0.7},"encoding":{"x":{"field":"x","type":"quantitative","scale":{"domain":[-0.226,0.346],"range":[126.5,304],"nice":false,"zero":false},"axis":{"orient":"bottom","offset":-525.7,"title":null,"values":[-0.2,-0.1,0,0.1,0.2,0.3],"format":".1f","labelExpr":"replace(datum.label,'\u2212','-')"}},"y":{"field":"v","type":"quantitative","scale":{"domain":[-0.5,10.5],"range":[856.3,702.3],"nice":false,"zero":false},"axis":{"orient":"left","offset":-126.5,"title":null,"values":[0,2.5,5,7.5,10],"format":".1f"}},"y2":{"datum":0}}},
{"data":{"name":"hist"},"transform":[{"filter":"datum.p=='C' && datum.e=='outcome'"}],"mark":{"type":"bar","orient":"vertical","fill":"#6E00FF","fillOpacity":0.7},"encoding":{"x":{"field":"x","type":"quantitative","scale":{"domain":[-0.226,0.346],"range":[126.5,304],"nice":false,"zero":false},"axis":null},"y":{"field":"v","type":"quantitative","scale":{"domain":[-0.5,10.5],"range":[856.3,702.3],"nice":false,"zero":false},"axis":null},"y2":{"datum":0}}},
{"data":{"name":"hist"},"transform":[{"filter":"datum.p=='C' && datum.e=='cue'"}],"mark":{"type":"line","color":"black","strokeWidth":1.2,"interpolate":"monotone"},"encoding":{"x":{"field":"x","type":"quantitative","scale":{"domain":[-0.226,0.346],"range":[126.5,304],"nice":false,"zero":false},"axis":null},"y":{"field":"v","type":"quantitative","scale":{"domain":[-0.5,10.5],"range":[856.3,702.3],"nice":false,"zero":false},"axis":null}}},
{"data":{"name":"hist"},"transform":[{"filter":"datum.p=='C' && datum.e=='outcome'"}],"mark":{"type":"line","color":"black","strokeWidth":1.2,"interpolate":"monotone"},"encoding":{"x":{"field":"x","type":"quantitative","scale":{"domain":[-0.226,0.346],"range":[126.5,304],"nice":false,"zero":false},"axis":null},"y":{"field":"v","type":"quantitative","scale":{"domain":[-0.5,10.5],"range":[856.3,702.3],"nice":false,"zero":false},"axis":null}}},
{"data":{"values":[{}]},"mark":{"type":"rule","color":"black","strokeWidth":2,"strokeDash":[7,4]},"encoding":{"x":{"datum":0,"type":"quantitative","scale":{"domain":[-0.226,0.346],"range":[126.5,304],"nice":false,"zero":false},"axis":null},"y":{"datum":-0.5,"type":"quantitative","scale":{"domain":[-0.5,10.5],"range":[856.3,702.3],"nice":false,"zero":false},"axis":null},"y2":{"datum":10.4}}},
{"data":{"name":"ann"},"transform":[{"filter":"datum.p=='C'"}],"mark":{"type":"text","fontWeight":"bold","fontSize":24,"baseline":"middle","dy":2,"color":"black"},"encoding":{"x":{"field":"x","type":"quantitative","scale":{"domain":[-0.226,0.346],"range":[126.5,304],"nice":false,"zero":false},"axis":null},"y":{"field":"v","type":"quantitative","scale":{"domain":[-0.5,10.5],"range":[856.3,702.3],"nice":false,"zero":false},"axis":null},"text":{"field":"t"}}},

{"data":{"values":[{}]},"mark":{"type":"rule","color":"black","strokeWidth":1.2},"encoding":{"x":{"datum":-0.2,"type":"quantitative","scale":{"domain":[-0.226,0.346],"range":[126.5,304],"nice":false,"zero":false},"axis":null},"x2":{"datum":0.32},"y":{"datum":0,"type":"quantitative","scale":{"domain":[-0.5,10.5],"range":[1029.3,875.3],"nice":false,"zero":false},"axis":null}}},
{"data":{"name":"hist"},"transform":[{"filter":"datum.p=='Cy' && datum.e=='cue'"}],"mark":{"type":"bar","orient":"vertical","fill":"#FF3C00","fillOpacity":0.7},"encoding":{"x":{"field":"x","type":"quantitative","scale":{"domain":[-0.226,0.346],"range":[126.5,304],"nice":false,"zero":false},"axis":{"orient":"bottom","offset":-352.7,"title":null,"values":[-0.2,-0.1,0,0.1,0.2,0.3],"format":".1f","labelExpr":"replace(datum.label,'\u2212','-')"}},"y":{"field":"v","type":"quantitative","scale":{"domain":[-0.5,10.5],"range":[1029.3,875.3],"nice":false,"zero":false},"axis":{"orient":"left","offset":-126.5,"title":null,"values":[0,2.5,5,7.5,10],"format":".1f"}},"y2":{"datum":0}}},
{"data":{"name":"hist"},"transform":[{"filter":"datum.p=='Cy' && datum.e=='outcome'"}],"mark":{"type":"bar","orient":"vertical","fill":"#6E00FF","fillOpacity":0.7},"encoding":{"x":{"field":"x","type":"quantitative","scale":{"domain":[-0.226,0.346],"range":[126.5,304],"nice":false,"zero":false},"axis":null},"y":{"field":"v","type":"quantitative","scale":{"domain":[-0.5,10.5],"range":[1029.3,875.3],"nice":false,"zero":false},"axis":null},"y2":{"datum":0}}},
{"data":{"name":"hist"},"transform":[{"filter":"datum.p=='Cy' && datum.e=='cue'"}],"mark":{"type":"line","color":"black","strokeWidth":1.2,"interpolate":"monotone"},"encoding":{"x":{"field":"x","type":"quantitative","scale":{"domain":[-0.226,0.346],"range":[126.5,304],"nice":false,"zero":false},"axis":null},"y":{"field":"v","type":"quantitative","scale":{"domain":[-0.5,10.5],"range":[1029.3,875.3],"nice":false,"zero":false},"axis":null}}},
{"data":{"name":"hist"},"transform":[{"filter":"datum.p=='Cy' && datum.e=='outcome'"}],"mark":{"type":"line","color":"black","strokeWidth":1.2,"interpolate":"monotone"},"encoding":{"x":{"field":"x","type":"quantitative","scale":{"domain":[-0.226,0.346],"range":[126.5,304],"nice":false,"zero":false},"axis":null},"y":{"field":"v","type":"quantitative","scale":{"domain":[-0.5,10.5],"range":[1029.3,875.3],"nice":false,"zero":false},"axis":null}}},
{"data":{"values":[{}]},"mark":{"type":"rule","color":"black","strokeWidth":2,"strokeDash":[7,4]},"encoding":{"x":{"datum":0,"type":"quantitative","scale":{"domain":[-0.226,0.346],"range":[126.5,304],"nice":false,"zero":false},"axis":null},"y":{"datum":-0.5,"type":"quantitative","scale":{"domain":[-0.5,10.5],"range":[1029.3,875.3],"nice":false,"zero":false},"axis":null},"y2":{"datum":10.4}}},
{"data":{"name":"ann"},"transform":[{"filter":"datum.p=='Cy'"}],"mark":{"type":"text","fontWeight":"bold","fontSize":24,"baseline":"middle","dy":6,"color":"black"},"encoding":{"x":{"field":"x","type":"quantitative","scale":{"domain":[-0.226,0.346],"range":[126.5,304],"nice":false,"zero":false},"axis":null},"y":{"field":"v","type":"quantitative","scale":{"domain":[-0.5,10.5],"range":[1029.3,875.3],"nice":false,"zero":false},"axis":null},"text":{"field":"t"}}},

{"data":{"values":[{}]},"mark":{"type":"rule","color":"black","strokeWidth":1.2},"encoding":{"x":{"datum":-0.2,"type":"quantitative","scale":{"domain":[-0.226,0.346],"range":[817.5,993],"nice":false,"zero":false},"axis":null},"x2":{"datum":0.32},"y":{"datum":0,"type":"quantitative","scale":{"domain":[-0.5,10.5],"range":[857,703],"nice":false,"zero":false},"axis":null}}},
{"data":{"name":"hist"},"transform":[{"filter":"datum.p=='D' && datum.e=='cue'"}],"mark":{"type":"bar","orient":"vertical","fill":"#FF3C00","fillOpacity":0.7},"encoding":{"x":{"field":"x","type":"quantitative","scale":{"domain":[-0.226,0.346],"range":[817.5,993],"nice":false,"zero":false},"axis":{"orient":"bottom","offset":-525,"title":null,"values":[-0.2,-0.1,0,0.1,0.2,0.3],"format":".1f","labelExpr":"replace(datum.label,'\u2212','-')"}},"y":{"field":"v","type":"quantitative","scale":{"domain":[-0.5,10.5],"range":[857,703],"nice":false,"zero":false},"axis":{"orient":"left","offset":-817.5,"title":null,"values":[0,2.5,5,7.5,10],"format":".1f"}},"y2":{"datum":0}}},
{"data":{"name":"hist"},"transform":[{"filter":"datum.p=='D' && datum.e=='outcome'"}],"mark":{"type":"bar","orient":"vertical","fill":"#6E00FF","fillOpacity":0.7},"encoding":{"x":{"field":"x","type":"quantitative","scale":{"domain":[-0.226,0.346],"range":[817.5,993],"nice":false,"zero":false},"axis":null},"y":{"field":"v","type":"quantitative","scale":{"domain":[-0.5,10.5],"range":[857,703],"nice":false,"zero":false},"axis":null},"y2":{"datum":0}}},
{"data":{"name":"hist"},"transform":[{"filter":"datum.p=='D' && datum.e=='cue'"}],"mark":{"type":"line","color":"black","strokeWidth":1.2,"interpolate":"monotone"},"encoding":{"x":{"field":"x","type":"quantitative","scale":{"domain":[-0.226,0.346],"range":[817.5,993],"nice":false,"zero":false},"axis":null},"y":{"field":"v","type":"quantitative","scale":{"domain":[-0.5,10.5],"range":[857,703],"nice":false,"zero":false},"axis":null}}},
{"data":{"name":"hist"},"transform":[{"filter":"datum.p=='D' && datum.e=='outcome'"}],"mark":{"type":"line","color":"black","strokeWidth":1.2,"interpolate":"monotone"},"encoding":{"x":{"field":"x","type":"quantitative","scale":{"domain":[-0.226,0.346],"range":[817.5,993],"nice":false,"zero":false},"axis":null},"y":{"field":"v","type":"quantitative","scale":{"domain":[-0.5,10.5],"range":[857,703],"nice":false,"zero":false},"axis":null}}},
{"data":{"values":[{}]},"mark":{"type":"rule","color":"black","strokeWidth":2,"strokeDash":[7,4]},"encoding":{"x":{"datum":0,"type":"quantitative","scale":{"domain":[-0.226,0.346],"range":[817.5,993],"nice":false,"zero":false},"axis":null},"y":{"datum":-0.5,"type":"quantitative","scale":{"domain":[-0.5,10.5],"range":[857,703],"nice":false,"zero":false},"axis":null},"y2":{"datum":10.4}}},
{"data":{"name":"ann"},"transform":[{"filter":"datum.p=='D'"}],"mark":{"type":"text","fontWeight":"bold","fontSize":24,"baseline":"middle","dy":6,"color":"black"},"encoding":{"x":{"field":"x","type":"quantitative","scale":{"domain":[-0.226,0.346],"range":[817.5,993],"nice":false,"zero":false},"axis":null},"y":{"field":"v","type":"quantitative","scale":{"domain":[-0.5,10.5],"range":[857,703],"nice":false,"zero":false},"axis":null},"text":{"field":"t"}}},

{"data":{"values":[{}]},"mark":{"type":"rule","color":"black","strokeWidth":1.2},"encoding":{"x":{"datum":-0.2,"type":"quantitative","scale":{"domain":[-0.226,0.346],"range":[817.5,993],"nice":false,"zero":false},"axis":null},"x2":{"datum":0.32},"y":{"datum":0,"type":"quantitative","scale":{"domain":[-0.5,10.5],"range":[1027.6,876.4],"nice":false,"zero":false},"axis":null}}},
{"data":{"name":"hist"},"transform":[{"filter":"datum.p=='Dy' && datum.e=='cue'"}],"mark":{"type":"bar","orient":"vertical","fill":"#FF3C00","fillOpacity":0.7},"encoding":{"x":{"field":"x","type":"quantitative","scale":{"domain":[-0.226,0.346],"range":[817.5,993],"nice":false,"zero":false},"axis":{"orient":"bottom","offset":-354.4,"title":null,"values":[-0.2,-0.1,0,0.1,0.2,0.3],"format":".1f","labelExpr":"replace(datum.label,'\u2212','-')"}},"y":{"field":"v","type":"quantitative","scale":{"domain":[-0.5,10.5],"range":[1027.6,876.4],"nice":false,"zero":false},"axis":{"orient":"left","offset":-817.5,"title":null,"values":[0,2.5,5,7.5,10],"format":".1f"}},"y2":{"datum":0}}},
{"data":{"name":"hist"},"transform":[{"filter":"datum.p=='Dy' && datum.e=='outcome'"}],"mark":{"type":"bar","orient":"vertical","fill":"#6E00FF","fillOpacity":0.7},"encoding":{"x":{"field":"x","type":"quantitative","scale":{"domain":[-0.226,0.346],"range":[817.5,993],"nice":false,"zero":false},"axis":null},"y":{"field":"v","type":"quantitative","scale":{"domain":[-0.5,10.5],"range":[1027.6,876.4],"nice":false,"zero":false},"axis":null},"y2":{"datum":0}}},
{"data":{"name":"hist"},"transform":[{"filter":"datum.p=='Dy' && datum.e=='cue'"}],"mark":{"type":"line","color":"black","strokeWidth":1.2,"interpolate":"monotone"},"encoding":{"x":{"field":"x","type":"quantitative","scale":{"domain":[-0.226,0.346],"range":[817.5,993],"nice":false,"zero":false},"axis":null},"y":{"field":"v","type":"quantitative","scale":{"domain":[-0.5,10.5],"range":[1027.6,876.4],"nice":false,"zero":false},"axis":null}}},
{"data":{"name":"hist"},"transform":[{"filter":"datum.p=='Dy' && datum.e=='outcome'"}],"mark":{"type":"line","color":"black","strokeWidth":1.2,"interpolate":"monotone"},"encoding":{"x":{"field":"x","type":"quantitative","scale":{"domain":[-0.226,0.346],"range":[817.5,993],"nice":false,"zero":false},"axis":null},"y":{"field":"v","type":"quantitative","scale":{"domain":[-0.5,10.5],"range":[1027.6,876.4],"nice":false,"zero":false},"axis":null}}},
{"data":{"values":[{}]},"mark":{"type":"rule","color":"black","strokeWidth":2,"strokeDash":[7,4]},"encoding":{"x":{"datum":0,"type":"quantitative","scale":{"domain":[-0.226,0.346],"range":[817.5,993],"nice":false,"zero":false},"axis":null},"y":{"datum":-0.5,"type":"quantitative","scale":{"domain":[-0.5,10.5],"range":[1027.6,876.4],"nice":false,"zero":false},"axis":null},"y2":{"datum":10.4}}},
{"data":{"name":"ann"},"transform":[{"filter":"datum.p=='Dy'"}],"mark":{"type":"text","fontWeight":"bold","fontSize":24,"baseline":"middle","dy":6,"color":"black"},"encoding":{"x":{"field":"x","type":"quantitative","scale":{"domain":[-0.226,0.346],"range":[817.5,993],"nice":false,"zero":false},"axis":null},"y":{"field":"v","type":"quantitative","scale":{"domain":[-0.5,10.5],"range":[1027.6,876.4],"nice":false,"zero":false},"axis":null},"text":{"field":"t"}}},

{"data":{"values":[{}]},"mark":{"type":"rule","color":"black","strokeWidth":1.2},"encoding":{"x":{"datum":-0.2,"type":"quantitative","scale":{"domain":[-0.226,0.346],"range":[351.5,529],"nice":false,"zero":false},"axis":null},"x2":{"datum":0.32},"y":{"datum":0,"type":"quantitative","scale":{"domain":[-0.5,10.5],"range":[1109.7,955.3],"nice":false,"zero":false},"axis":null}}},
{"data":{"name":"hist"},"transform":[{"filter":"datum.p=='E' && datum.e=='cue'"}],"mark":{"type":"bar","orient":"vertical","fill":"#FF3C00","fillOpacity":0.7},"encoding":{"x":{"field":"x","type":"quantitative","scale":{"domain":[-0.226,0.346],"range":[351.5,529],"nice":false,"zero":false},"axis":{"orient":"bottom","offset":-272.3,"title":null,"values":[-0.2,-0.1,0,0.1,0.2,0.3],"format":".1f","labelExpr":"replace(datum.label,'\u2212','-')"}},"y":{"field":"v","type":"quantitative","scale":{"domain":[-0.5,10.5],"range":[1109.7,955.3],"nice":false,"zero":false},"axis":{"orient":"left","offset":-351.5,"title":null,"values":[0,2.5,5,7.5,10],"format":".1f"}},"y2":{"datum":0}}},
{"data":{"name":"hist"},"transform":[{"filter":"datum.p=='E' && datum.e=='outcome'"}],"mark":{"type":"bar","orient":"vertical","fill":"#6E00FF","fillOpacity":0.7},"encoding":{"x":{"field":"x","type":"quantitative","scale":{"domain":[-0.226,0.346],"range":[351.5,529],"nice":false,"zero":false},"axis":null},"y":{"field":"v","type":"quantitative","scale":{"domain":[-0.5,10.5],"range":[1109.7,955.3],"nice":false,"zero":false},"axis":null},"y2":{"datum":0}}},
{"data":{"name":"hist"},"transform":[{"filter":"datum.p=='E' && datum.e=='cue'"}],"mark":{"type":"line","color":"black","strokeWidth":1.2,"interpolate":"monotone"},"encoding":{"x":{"field":"x","type":"quantitative","scale":{"domain":[-0.226,0.346],"range":[351.5,529],"nice":false,"zero":false},"axis":null},"y":{"field":"v","type":"quantitative","scale":{"domain":[-0.5,10.5],"range":[1109.7,955.3],"nice":false,"zero":false},"axis":null}}},
{"data":{"name":"hist"},"transform":[{"filter":"datum.p=='E' && datum.e=='outcome'"}],"mark":{"type":"line","color":"black","strokeWidth":1.2,"interpolate":"monotone"},"encoding":{"x":{"field":"x","type":"quantitative","scale":{"domain":[-0.226,0.346],"range":[351.5,529],"nice":false,"zero":false},"axis":null},"y":{"field":"v","type":"quantitative","scale":{"domain":[-0.5,10.5],"range":[1109.7,955.3],"nice":false,"zero":false},"axis":null}}},
{"data":{"values":[{}]},"mark":{"type":"rule","color":"black","strokeWidth":2,"strokeDash":[7,4]},"encoding":{"x":{"datum":0,"type":"quantitative","scale":{"domain":[-0.226,0.346],"range":[351.5,529],"nice":false,"zero":false},"axis":null},"y":{"datum":-0.5,"type":"quantitative","scale":{"domain":[-0.5,10.5],"range":[1109.7,955.3],"nice":false,"zero":false},"axis":null},"y2":{"datum":10.4}}},
{"data":{"name":"ann"},"transform":[{"filter":"datum.p=='E'"}],"mark":{"type":"text","fontWeight":"bold","fontSize":24,"baseline":"middle","dy":6,"color":"black"},"encoding":{"x":{"field":"x","type":"quantitative","scale":{"domain":[-0.226,0.346],"range":[351.5,529],"nice":false,"zero":false},"axis":null},"y":{"field":"v","type":"quantitative","scale":{"domain":[-0.5,10.5],"range":[1109.7,955.3],"nice":false,"zero":false},"axis":null},"text":{"field":"t"}}},

{"data":{"values":[{}]},"mark":{"type":"rule","color":"black","strokeWidth":1.2},"encoding":{"x":{"datum":-0.2,"type":"quantitative","scale":{"domain":[-0.226,0.346],"range":[351.5,529],"nice":false,"zero":false},"axis":null},"x2":{"datum":0.32},"y":{"datum":0,"type":"quantitative","scale":{"domain":[-0.5,10.5],"range":[1280.2,1129.1],"nice":false,"zero":false},"axis":null}}},
{"data":{"name":"hist"},"transform":[{"filter":"datum.p=='Ey' && datum.e=='cue'"}],"mark":{"type":"bar","orient":"vertical","fill":"#FF3C00","fillOpacity":0.7},"encoding":{"x":{"field":"x","type":"quantitative","scale":{"domain":[-0.226,0.346],"range":[351.5,529],"nice":false,"zero":false},"axis":{"orient":"bottom","offset":-101.8,"title":null,"values":[-0.2,-0.1,0,0.1,0.2,0.3],"format":".1f","labelExpr":"replace(datum.label,'\u2212','-')"}},"y":{"field":"v","type":"quantitative","scale":{"domain":[-0.5,10.5],"range":[1280.2,1129.1],"nice":false,"zero":false},"axis":{"orient":"left","offset":-351.5,"title":null,"values":[0,2.5,5,7.5,10],"format":".1f"}},"y2":{"datum":0}}},
{"data":{"name":"hist"},"transform":[{"filter":"datum.p=='Ey' && datum.e=='outcome'"}],"mark":{"type":"bar","orient":"vertical","fill":"#6E00FF","fillOpacity":0.7},"encoding":{"x":{"field":"x","type":"quantitative","scale":{"domain":[-0.226,0.346],"range":[351.5,529],"nice":false,"zero":false},"axis":null},"y":{"field":"v","type":"quantitative","scale":{"domain":[-0.5,10.5],"range":[1280.2,1129.1],"nice":false,"zero":false},"axis":null},"y2":{"datum":0}}},
{"data":{"name":"hist"},"transform":[{"filter":"datum.p=='Ey' && datum.e=='cue'"}],"mark":{"type":"line","color":"black","strokeWidth":1.2,"interpolate":"monotone"},"encoding":{"x":{"field":"x","type":"quantitative","scale":{"domain":[-0.226,0.346],"range":[351.5,529],"nice":false,"zero":false},"axis":null},"y":{"field":"v","type":"quantitative","scale":{"domain":[-0.5,10.5],"range":[1280.2,1129.1],"nice":false,"zero":false},"axis":null}}},
{"data":{"name":"hist"},"transform":[{"filter":"datum.p=='Ey' && datum.e=='outcome'"}],"mark":{"type":"line","color":"black","strokeWidth":1.2,"interpolate":"monotone"},"encoding":{"x":{"field":"x","type":"quantitative","scale":{"domain":[-0.226,0.346],"range":[351.5,529],"nice":false,"zero":false},"axis":null},"y":{"field":"v","type":"quantitative","scale":{"domain":[-0.5,10.5],"range":[1280.2,1129.1],"nice":false,"zero":false},"axis":null}}},
{"data":{"values":[{}]},"mark":{"type":"rule","color":"black","strokeWidth":2,"strokeDash":[7,4]},"encoding":{"x":{"datum":0,"type":"quantitative","scale":{"domain":[-0.226,0.346],"range":[351.5,529],"nice":false,"zero":false},"axis":null},"y":{"datum":-0.5,"type":"quantitative","scale":{"domain":[-0.5,10.5],"range":[1280.2,1129.1],"nice":false,"zero":false},"axis":null},"y2":{"datum":10.4}}},
{"data":{"name":"ann"},"transform":[{"filter":"datum.p=='Ey'"}],"mark":{"type":"text","fontWeight":"bold","fontSize":24,"baseline":"middle","dy":6,"color":"black"},"encoding":{"x":{"field":"x","type":"quantitative","scale":{"domain":[-0.226,0.346],"range":[351.5,529],"nice":false,"zero":false},"axis":null},"y":{"field":"v","type":"quantitative","scale":{"domain":[-0.5,10.5],"range":[1280.2,1129.1],"nice":false,"zero":false},"axis":null},"text":{"field":"t"}}},

{"data":{"values":[{}]},"mark":{"type":"rule","color":"black","strokeWidth":1.2},"encoding":{"x":{"datum":-0.2,"type":"quantitative","scale":{"domain":[-0.226,0.346],"range":[588.3,765],"nice":false,"zero":false},"axis":null},"x2":{"datum":0.32},"y":{"datum":0,"type":"quantitative","scale":{"domain":[-0.5,10.5],"range":[1109.7,955.3],"nice":false,"zero":false},"axis":null}}},
{"data":{"name":"hist"},"transform":[{"filter":"datum.p=='F' && datum.e=='cue'"}],"mark":{"type":"bar","orient":"vertical","fill":"#FF3C00","fillOpacity":0.7},"encoding":{"x":{"field":"x","type":"quantitative","scale":{"domain":[-0.226,0.346],"range":[588.3,765],"nice":false,"zero":false},"axis":{"orient":"bottom","offset":-272.3,"title":null,"values":[-0.2,-0.1,0,0.1,0.2,0.3],"format":".1f","labelExpr":"replace(datum.label,'\u2212','-')"}},"y":{"field":"v","type":"quantitative","scale":{"domain":[-0.5,10.5],"range":[1109.7,955.3],"nice":false,"zero":false},"axis":{"orient":"left","offset":-588.3,"title":null,"values":[0,2.5,5,7.5,10],"format":".1f"}},"y2":{"datum":0}}},
{"data":{"name":"hist"},"transform":[{"filter":"datum.p=='F' && datum.e=='outcome'"}],"mark":{"type":"bar","orient":"vertical","fill":"#6E00FF","fillOpacity":0.7},"encoding":{"x":{"field":"x","type":"quantitative","scale":{"domain":[-0.226,0.346],"range":[588.3,765],"nice":false,"zero":false},"axis":null},"y":{"field":"v","type":"quantitative","scale":{"domain":[-0.5,10.5],"range":[1109.7,955.3],"nice":false,"zero":false},"axis":null},"y2":{"datum":0}}},
{"data":{"name":"hist"},"transform":[{"filter":"datum.p=='F' && datum.e=='cue'"}],"mark":{"type":"line","color":"black","strokeWidth":1.2,"interpolate":"monotone"},"encoding":{"x":{"field":"x","type":"quantitative","scale":{"domain":[-0.226,0.346],"range":[588.3,765],"nice":false,"zero":false},"axis":null},"y":{"field":"v","type":"quantitative","scale":{"domain":[-0.5,10.5],"range":[1109.7,955.3],"nice":false,"zero":false},"axis":null}}},
{"data":{"name":"hist"},"transform":[{"filter":"datum.p=='F' && datum.e=='outcome'"}],"mark":{"type":"line","color":"black","strokeWidth":1.2,"interpolate":"monotone"},"encoding":{"x":{"field":"x","type":"quantitative","scale":{"domain":[-0.226,0.346],"range":[588.3,765],"nice":false,"zero":false},"axis":null},"y":{"field":"v","type":"quantitative","scale":{"domain":[-0.5,10.5],"range":[1109.7,955.3],"nice":false,"zero":false},"axis":null}}},
{"data":{"values":[{}]},"mark":{"type":"rule","color":"black","strokeWidth":2,"strokeDash":[7,4]},"encoding":{"x":{"datum":0,"type":"quantitative","scale":{"domain":[-0.226,0.346],"range":[588.3,765],"nice":false,"zero":false},"axis":null},"y":{"datum":-0.5,"type":"quantitative","scale":{"domain":[-0.5,10.5],"range":[1109.7,955.3],"nice":false,"zero":false},"axis":null},"y2":{"datum":10.4}}},

{"data":{"values":[{}]},"mark":{"type":"rule","color":"black","strokeWidth":1.2},"encoding":{"x":{"datum":-0.2,"type":"quantitative","scale":{"domain":[-0.226,0.346],"range":[588.3,765],"nice":false,"zero":false},"axis":null},"x2":{"datum":0.32},"y":{"datum":0,"type":"quantitative","scale":{"domain":[-0.5,10.5],"range":[1280.2,1129.1],"nice":false,"zero":false},"axis":null}}},
{"data":{"name":"hist"},"transform":[{"filter":"datum.p=='Fy' && datum.e=='cue'"}],"mark":{"type":"bar","orient":"vertical","fill":"#FF3C00","fillOpacity":0.7},"encoding":{"x":{"field":"x","type":"quantitative","scale":{"domain":[-0.226,0.346],"range":[588.3,765],"nice":false,"zero":false},"axis":{"orient":"bottom","offset":-101.8,"title":null,"values":[-0.2,-0.1,0,0.1,0.2,0.3],"format":".1f","labelExpr":"replace(datum.label,'\u2212','-')"}},"y":{"field":"v","type":"quantitative","scale":{"domain":[-0.5,10.5],"range":[1280.2,1129.1],"nice":false,"zero":false},"axis":{"orient":"left","offset":-588.3,"title":null,"values":[0,2.5,5,7.5,10],"format":".1f"}},"y2":{"datum":0}}},
{"data":{"name":"hist"},"transform":[{"filter":"datum.p=='Fy' && datum.e=='outcome'"}],"mark":{"type":"bar","orient":"vertical","fill":"#6E00FF","fillOpacity":0.7},"encoding":{"x":{"field":"x","type":"quantitative","scale":{"domain":[-0.226,0.346],"range":[588.3,765],"nice":false,"zero":false},"axis":null},"y":{"field":"v","type":"quantitative","scale":{"domain":[-0.5,10.5],"range":[1280.2,1129.1],"nice":false,"zero":false},"axis":null},"y2":{"datum":0}}},
{"data":{"name":"hist"},"transform":[{"filter":"datum.p=='Fy' && datum.e=='cue'"}],"mark":{"type":"line","color":"black","strokeWidth":1.2,"interpolate":"monotone"},"encoding":{"x":{"field":"x","type":"quantitative","scale":{"domain":[-0.226,0.346],"range":[588.3,765],"nice":false,"zero":false},"axis":null},"y":{"field":"v","type":"quantitative","scale":{"domain":[-0.5,10.5],"range":[1280.2,1129.1],"nice":false,"zero":false},"axis":null}}},
{"data":{"name":"hist"},"transform":[{"filter":"datum.p=='Fy' && datum.e=='outcome'"}],"mark":{"type":"line","color":"black","strokeWidth":1.2,"interpolate":"monotone"},"encoding":{"x":{"field":"x","type":"quantitative","scale":{"domain":[-0.226,0.346],"range":[588.3,765],"nice":false,"zero":false},"axis":null},"y":{"field":"v","type":"quantitative","scale":{"domain":[-0.5,10.5],"range":[1280.2,1129.1],"nice":false,"zero":false},"axis":null}}},
{"data":{"values":[{}]},"mark":{"type":"rule","color":"black","strokeWidth":2,"strokeDash":[7,4]},"encoding":{"x":{"datum":0,"type":"quantitative","scale":{"domain":[-0.226,0.346],"range":[588.3,765],"nice":false,"zero":false},"axis":null},"y":{"datum":-0.5,"type":"quantitative","scale":{"domain":[-0.5,10.5],"range":[1280.2,1129.1],"nice":false,"zero":false},"axis":null},"y2":{"datum":10.4}}},

{"data":{"name":"cv"},"transform":[{"filter":"datum.k=='yel'"}],
 "mark":{"type":"rect","fill":"#F5E100","fillOpacity":0.25,"strokeWidth":0},
 "encoding":{"x":{"field":"x","type":"quantitative","scale":{"domain":[0,1078],"range":[0,1078],"nice":false,"zero":false},"axis":null},"x2":{"field":"x2"},
  "y":{"field":"y","type":"quantitative","scale":{"domain":[0,1382],"range":[0,1382],"nice":false,"zero":false},"axis":null},"y2":{"field":"y2"}}}
]
}
